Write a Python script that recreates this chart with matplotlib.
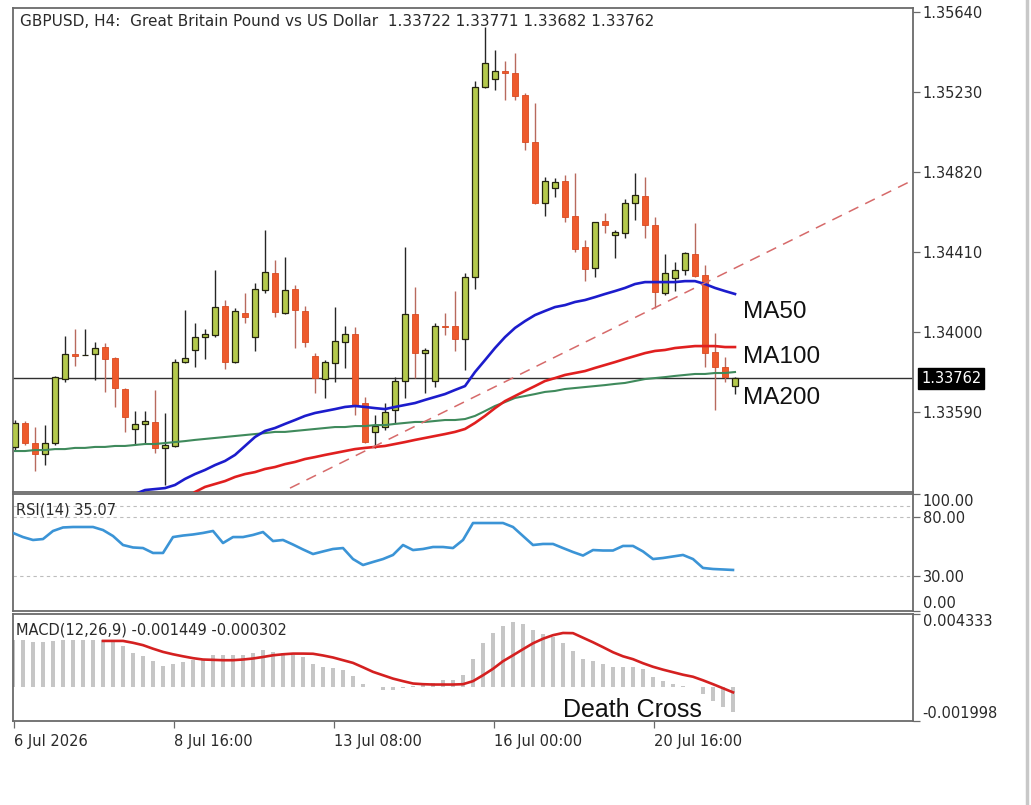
import numpy as np
import matplotlib
matplotlib.use('Agg')
import matplotlib.pyplot as plt
import matplotlib.transforms as mtransforms
from matplotlib.lines import Line2D

nan = np.nan

# GBPUSD H4 candles, 6 Jul 2026 onwards
opens = [1.33411, 1.33534, 1.33431, 1.33375, 1.33431, 1.33759, 1.33887, 1.33882, 1.33887, 1.33923,
         1.33867, 1.33708, 1.33503, 1.33529, 1.33539, 1.33406, 1.33416, 1.33846, 1.33908, 1.33974,
         1.33985, 1.34133, 1.33846, 1.34097, 1.33974, 1.34215, 1.34302, 1.34097, 1.34220, 1.34108,
         1.33877, 1.33759, 1.33841, 1.33949, 1.33990, 1.33636, 1.33488, 1.33513, 1.33600, 1.33749,
         1.34092, 1.33892, 1.33749, 1.34031, 1.34031, 1.33964, 1.34282, 1.35256, 1.35297, 1.35338,
         1.35327, 1.35215, 1.34974, 1.34661, 1.34738, 1.34774, 1.34595, 1.34436, 1.34328, 1.34569,
         1.34497, 1.34507, 1.34661, 1.34697, 1.34548, 1.34200, 1.34277, 1.34318, 1.34400, 1.34292,
         1.33898, 1.33821, 1.33722]
highs = [1.33549, 1.33544, 1.33513, 1.33523, 1.33775, 1.33979, 1.34015, 1.34015, 1.33949, 1.33944,
         1.33872, 1.33713, 1.33595, 1.33595, 1.33703, 1.33585, 1.33862, 1.34113, 1.34046, 1.34015,
         1.34318, 1.34164, 1.34123, 1.34200, 1.34251, 1.34523, 1.34369, 1.34384, 1.34241, 1.34133,
         1.33892, 1.33856, 1.34128, 1.34031, 1.34026, 1.33667, 1.33575, 1.33636, 1.33769, 1.34436,
         1.34231, 1.33918, 1.34046, 1.34097, 1.34210, 1.34302, 1.35286, 1.35563, 1.35445, 1.35389,
         1.35430, 1.35225, 1.35174, 1.34794, 1.34789, 1.34805, 1.34815, 1.34472, 1.34564, 1.34610,
         1.34523, 1.34682, 1.34815, 1.34794, 1.34589, 1.34400, 1.34359, 1.34410, 1.34559, 1.34343,
         1.33995, 1.33872, 1.33771]
lows = [1.33395, 1.33421, 1.33288, 1.33318, 1.33421, 1.33744, 1.33826, 1.33880, 1.33754, 1.33693,
        1.33616, 1.33488, 1.33421, 1.33426, 1.33380, 1.33216, 1.33411, 1.33841, 1.33821, 1.33862,
        1.33974, 1.33810, 1.33840, 1.34046, 1.33903, 1.34200, 1.34077, 1.34092, 1.33918, 1.33923,
        1.33687, 1.33662, 1.33744, 1.33816, 1.33575, 1.33431, 1.33406, 1.33498, 1.33534, 1.33662,
        1.33764, 1.33687, 1.33718, 1.33985, 1.33903, 1.33805, 1.34220, 1.35250, 1.35240, 1.35189,
        1.35189, 1.34933, 1.34656, 1.34595, 1.34692, 1.34564, 1.34410, 1.34261, 1.34282, 1.34507,
        1.34379, 1.34482, 1.34574, 1.34482, 1.34123, 1.34190, 1.34210, 1.34292, 1.34282, 1.33821,
        1.33600, 1.33744, 1.33682]
closes = [1.33534, 1.33431, 1.33375, 1.33431, 1.33769, 1.33887, 1.33877, 1.33882, 1.33918, 1.33862,
          1.33713, 1.33564, 1.33529, 1.33544, 1.33406, 1.33421, 1.33846, 1.33867, 1.33974, 1.33990,
          1.34128, 1.33846, 1.34108, 1.34077, 1.34220, 1.34308, 1.34103, 1.34215, 1.34113, 1.33949,
          1.33764, 1.33846, 1.33954, 1.33990, 1.33626, 1.33436, 1.33518, 1.33590, 1.33749, 1.34092,
          1.33892, 1.33908, 1.34031, 1.34026, 1.33964, 1.34282, 1.35256, 1.35379, 1.35338, 1.35327,
          1.35210, 1.34974, 1.34661, 1.34774, 1.34769, 1.34589, 1.34425, 1.34323, 1.34564, 1.34548,
          1.34513, 1.34661, 1.34702, 1.34548, 1.34205, 1.34302, 1.34318, 1.34405, 1.34287, 1.33892,
          1.33821, 1.33769, 1.33762]

ma50 = [nan] * 12 + [
    1.33170, 1.33190, 1.33195, 1.33200, 1.33216, 1.33247, 1.33272, 1.33293, 1.33318, 1.33339,
    1.33370, 1.33416, 1.33462, 1.33493, 1.33508, 1.33529, 1.33549, 1.33570, 1.33585, 1.33595,
    1.33605, 1.33616, 1.33621, 1.33616, 1.33610, 1.33605, 1.33616, 1.33626, 1.33636, 1.33652,
    1.33667, 1.33682, 1.33703, 1.33723, 1.33795, 1.33856, 1.33918, 1.33974, 1.34021, 1.34056,
    1.34087, 1.34108, 1.34128, 1.34138, 1.34154, 1.34164, 1.34179, 1.34195, 1.34210, 1.34226,
    1.34246, 1.34256, 1.34256, 1.34256, 1.34256, 1.34261, 1.34261, 1.34246, 1.34226, 1.34210,
    1.34195]
ma100 = [nan] * 18 + [
    1.33180, 1.33206, 1.33221, 1.33236, 1.33257, 1.33272, 1.33282, 1.33298, 1.33308, 1.33323,
    1.33334, 1.33349, 1.33359, 1.33370, 1.33380, 1.33390, 1.33400, 1.33406, 1.33411, 1.33416,
    1.33426, 1.33436, 1.33447, 1.33457, 1.33467, 1.33477, 1.33488, 1.33503, 1.33534, 1.33570,
    1.33610, 1.33646, 1.33672, 1.33698, 1.33723, 1.33749, 1.33764, 1.33780, 1.33790, 1.33800,
    1.33816, 1.33831, 1.33846, 1.33862, 1.33877, 1.33892, 1.33903, 1.33908, 1.33918, 1.33923,
    1.33928, 1.33928, 1.33928, 1.33923, 1.33923]
ma200 = [1.33390, 1.33390, 1.33395, 1.33395, 1.33400, 1.33400, 1.33406, 1.33406, 1.33411, 1.33411,
         1.33416, 1.33416, 1.33421, 1.33426, 1.33426, 1.33431, 1.33436, 1.33441, 1.33447, 1.33452,
         1.33457, 1.33462, 1.33467, 1.33472, 1.33477, 1.33482, 1.33488, 1.33488, 1.33493, 1.33498,
         1.33503, 1.33508, 1.33513, 1.33513, 1.33518, 1.33518, 1.33523, 1.33523, 1.33529, 1.33534,
         1.33539, 1.33539, 1.33544, 1.33549, 1.33549, 1.33554, 1.33570, 1.33595, 1.33621, 1.33641,
         1.33662, 1.33672, 1.33682, 1.33693, 1.33698, 1.33708, 1.33713, 1.33718, 1.33723, 1.33728,
         1.33734, 1.33739, 1.33749, 1.33759, 1.33764, 1.33769, 1.33775, 1.33780, 1.33785, 1.33785,
         1.33790, 1.33790, 1.33795]

# trend line drawn by hand: (bar index, price) at both ends
trend_x = [27.5, 89.8]
trend_y = [1.33200, 1.34779]
last_price = 1.33762

rsi = [66.7, 63.2, 60.7, 61.5, 68.4, 71.4, 71.8, 71.8, 71.8, 69.2,
       64.1, 56.4, 54.3, 53.8, 49.6, 49.6, 63.2, 64.5, 65.4, 66.7,
       68.4, 58.1, 63.2, 63.2, 65.0, 67.5, 59.8, 60.7, 56.8, 52.6,
       48.7, 50.9, 53.0, 53.8, 44.4, 39.3, 41.9, 44.4, 47.9, 56.4,
       52.1, 53.0, 54.7, 54.7, 53.8, 60.7, 75.2, 75.2, 75.2, 75.2,
       71.8, 64.1, 56.4, 57.3, 57.3, 53.8, 50.4, 47.4, 52.1, 51.7,
       51.7, 55.6, 55.6, 50.9, 44.4, 45.3, 46.6, 47.9, 44.4, 36.8,
       35.9, 35.5, 35.07]
rsi_levels = [90, 80, 30]

macd_main = [0.00278, 0.00278, 0.00268, 0.00268, 0.00274, 0.00278, 0.00278, 0.00278, 0.00278, 0.00278,
             0.00268, 0.00243, 0.00205, 0.00183, 0.00154, 0.00126, 0.00140, 0.00148, 0.00160, 0.00170,
             0.00189, 0.00189, 0.00189, 0.00189, 0.00203, 0.00219, 0.00209, 0.00203, 0.00193, 0.00176,
             0.00140, 0.00117, 0.00111, 0.00101, 0.00065, 0.00022, 0.00002, -0.00018, -0.00018, -0.00002,
             0.00006, 0.00025, 0.00025, 0.00041, 0.00041, 0.00075, 0.00170, 0.00259, 0.00318, 0.00361,
             0.00387, 0.00377, 0.00341, 0.00314, 0.00298, 0.00259, 0.00215, 0.00170, 0.00156, 0.00140,
             0.00117, 0.00117, 0.00117, 0.00105, 0.00061, 0.00037, 0.00018, 0.00008, 0.00002, -0.00041,
             -0.00081, -0.00117, -0.001449]
macd_signal = [nan] * 9 + [
    0.00274, 0.00274, 0.00274, 0.00263, 0.00249, 0.00228, 0.00209, 0.00195, 0.00183, 0.00172,
    0.00164, 0.00162, 0.00160, 0.00160, 0.00164, 0.00170, 0.00179, 0.00189, 0.00195, 0.00199,
    0.00199, 0.00198, 0.00188, 0.00176, 0.00160, 0.00144, 0.00118, 0.00091, 0.00071, 0.00051,
    0.00036, 0.00022, 0.00018, 0.00016, 0.00016, 0.00016, 0.00018, 0.00036, 0.00071, 0.00109,
    0.00154, 0.00189, 0.00225, 0.00260, 0.00287, 0.00308, 0.00321, 0.00320, 0.00293, 0.00266,
    0.00237, 0.00207, 0.00183, 0.00166, 0.00142, 0.00121, 0.00104, 0.00089, 0.00074, 0.00062,
    0.00041, 0.00018, -0.00006, -0.000302]

price_ticks = [1.33590, 1.34000, 1.34410, 1.34820, 1.35230, 1.35640]
date_ticks = [0, 16, 32, 48, 64]
date_labels = ['6 Jul 2026', '8 Jul 16:00', '13 Jul 08:00', '16 Jul 00:00', '20 Jul 16:00']

title = 'GBPUSD, H4:  Great Britain Pound vs US Dollar  1.33722 1.33771 1.33682 1.33762'

# colours
BULL = '#b4c94c'
BEAR = '#ee5a2c'
FRAME = '#6a6a6a'
TXT = '#2a2a2a'

plt.rcParams['font.family'] = ['DejaVu Sans']

W, H = 1031, 805
fig = plt.figure(figsize=(W / 100, H / 100), dpi=100)
fig.patch.set_facecolor('white')


def px_axes(left, top, right, bottom):
    return fig.add_axes([left / W, 1 - bottom / H, (right - left) / W, (bottom - top) / H])


ax = px_axes(13, 8, 913, 492)
ax_rsi = px_axes(13, 494, 913, 611)
ax_macd = px_axes(13, 614, 913, 721)

n = len(opens)
idx = np.arange(n)
o = np.array(opens)
h = np.array(highs)
l = np.array(lows)
c = np.array(closes)
up = c >= o

# wicks
ax.vlines(idx[up], l[up], h[up], color='#262626', lw=1.0, zorder=2)
ax.vlines(idx[~up], l[~up], h[~up], color='#b86a5e', lw=1.0, zorder=2)
# bodies
body_lo = np.minimum(o, c)
body_h = np.maximum(np.abs(c - o), 0.00002)
ax.bar(idx[up], body_h[up], bottom=body_lo[up], width=0.55, color=BULL,
       edgecolor='#23230f', linewidth=0.9, zorder=3)
ax.bar(idx[~up], body_h[~up], bottom=body_lo[~up], width=0.55, color=BEAR,
       edgecolor='#d94a22', linewidth=0.6, zorder=3)

# moving averages
ax.plot(idx, ma200, color='#3f8a5c', lw=1.5, zorder=4)
ax.plot(idx, ma100, color='#e01f1f', lw=1.9, zorder=4)
ax.plot(idx, ma50, color='#1c1ccc', lw=1.9, zorder=4)
ax.plot(trend_x, trend_y, color='#d66a6a', lw=1.1, dashes=(7, 5), zorder=4)
ax.axhline(last_price, color='#303030', lw=1.0, zorder=1)

ax.set_xlim(-0.2, 89.8)
ax.set_ylim(1.33180, 1.35661)

# indicator panels share the bar index
ind_x = idx - 0.2
ax_rsi.plot(ind_x, rsi, color='#3b94d6', lw=1.9, zorder=3)
for lev in rsi_levels:
    ax_rsi.axhline(lev, color='#bdbdbd', lw=0.8, dashes=(3, 3), zorder=1)
ax_rsi.set_ylim(0, 100)
ax_rsi.set_xlim(-0.2, 89.8)

ax_macd.bar(ind_x, macd_main, width=0.48, color='#c6c6c6', zorder=2)
ax_macd.plot(ind_x, macd_signal, color='#d42020', lw=1.9, zorder=3)
ax_macd.set_ylim(-0.001998, 0.004333)
ax_macd.set_xlim(-0.2, 89.8)

for a in (ax, ax_rsi, ax_macd):
    a.set_facecolor('white')
    for s in a.spines.values():
        s.set_color(FRAME)
        s.set_linewidth(1.3)
    a.yaxis.tick_right()
    a.tick_params(axis='y', which='both', direction='out', length=5, width=0.9,
                  color=FRAME, labelsize=10.5, labelcolor=TXT, pad=2, left=False)
    a.tick_params(axis='x', which='both', bottom=False, labelbottom=False)

ax.set_yticks(price_ticks)
ax.set_yticklabels(['%.5f' % p for p in price_ticks])

ax_rsi.set_yticks([0, 30, 80, 100])
ax_rsi.set_yticklabels(['0.00', '30.00', '80.00', '100.00'])
rl = ax_rsi.get_yticklabels()
rl[0].set_va('bottom')
rl[3].set_va('top')

ax_macd.set_yticks([-0.001998, 0.004333])
ax_macd.set_yticklabels(['-0.001998', '0.004333'])
ml = ax_macd.get_yticklabels()
ml[0].set_va('bottom')
ml[1].set_va('top')

ax_macd.set_xticks(np.array(date_ticks) - 0.1)
ax_macd.set_xticklabels(date_labels)
ax_macd.tick_params(axis='x', bottom=True, labelbottom=True, direction='out', length=5,
                    width=0.9, color=FRAME, labelsize=10.5, labelcolor=TXT, pad=4)
for t in ax_macd.get_xticklabels():
    t.set_ha('left')

# current price box on the scale
blend = mtransforms.blended_transform_factory(ax.transAxes, ax.transData)
ax.text(1.0 + 8 / 900, last_price, '%.5f' % last_price, transform=blend, ha='left', va='center',
        fontsize=10.5, color='white', clip_on=False, zorder=10,
        bbox=dict(boxstyle='square,pad=0.2', facecolor='black', edgecolor='black'))

# labels
fig.text(20 / W, 1 - 21 / H, title, fontsize=11, color=TXT, va='center', ha='left')
ax_rsi.text(3 / 900, 0.86, 'RSI(14) 35.07', transform=ax_rsi.transAxes, fontsize=10.5,
            color=TXT, va='center', ha='left')
ax_macd.text(3 / 900, 0.85, 'MACD(12,26,9) -0.001449 -0.000302', transform=ax_macd.transAxes,
             fontsize=10.5, color=TXT, va='center', ha='left')

for name, yf in [('MA50', 0.3729), ('MA100', 0.2789), ('MA200', 0.1952)]:
    ax.text(0.811, yf, name, transform=ax.transAxes, fontsize=17.5, color='#111111',
            family='Liberation Sans', va='center', ha='left')
ax_macd.text(0.611, 0.10, 'Death Cross', transform=ax_macd.transAxes, fontsize=18,
             color='#111111', family='Liberation Sans', va='center', ha='left', zorder=10)

fig.add_artist(Line2D([1027 / W, 1027 / W], [0, 1], color='#c8c8c8', lw=2.5))

fig.savefig('out.png', dpi=100, facecolor='white')
